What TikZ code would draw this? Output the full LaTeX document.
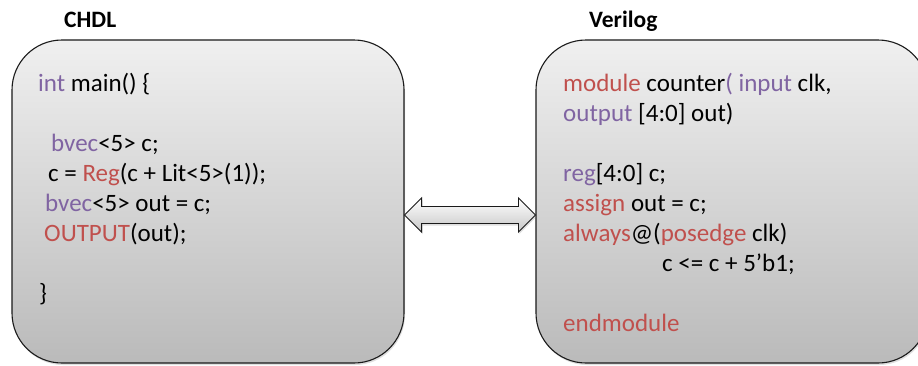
\documentclass[tikz,border=0pt]{standalone}
\usepackage{fontspec}
\setmainfont{Carlito}
\usetikzlibrary{calc,shadows}
\definecolor{kwred}{HTML}{C0504D}
\definecolor{kwpurple}{HTML}{8064A2}
\definecolor{edgegray}{HTML}{1A1A1A}
\tikzset{
  codebox/.style={draw=edgegray, line width=1.1pt, rounded corners=50pt,
    minimum width=392pt, minimum height=323pt, inner sep=0pt,
    top color=black!6, bottom color=black!27,
    drop shadow={opacity=0.25, shadow xshift=1pt, shadow yshift=-2pt}},
  codeline/.style={anchor=base west, inner sep=0pt, font=\fontsize{25}{30}\selectfont},
  heading/.style={anchor=base west, inner sep=0pt, font=\fontsize{23.5}{28}\selectfont\bfseries},
  twoway/.style={draw=edgegray, line width=0.9pt, line join=miter,
    top color=white, bottom color=black!22,
    drop shadow={opacity=0.25, shadow xshift=1pt, shadow yshift=-2pt}}
}
\newcommand{\kr}[1]{\textcolor{kwred}{#1}}
\newcommand{\kp}[1]{\textcolor{kwpurple}{#1}}
\begin{document}
\begin{tikzpicture}[x=1pt, y=-1pt]
  \clip (0,0) rectangle (918,365);
  \fill[white] (0,0) rectangle (918,365);

  % headings
  \node[heading] (tchdl) at (64,27) {CHDL};
  \node[heading] (tver) at (589,27) {Verilog};

  % the two code panels
  \node[codebox] (chdl) at (208,201.5) {};
  \node[codebox] (ver) at (732,201.5) {};

  % CHDL source
  \node[codeline] (c1) at (38,91)  {\kp{int} main() \{};
  \node[codeline] (c2) at (51,151) {\kp{bvec}<5> c;};
  \node[codeline] (c3) at (48,181) {c = \kr{Reg}(c + Lit<5>(1));};
  \node[codeline] (c4) at (45,211) {\kp{bvec}<5> out = c;};
  \node[codeline] (c5) at (44,241) {\kr{OUTPUT}(out);};
  \node[codeline] (c6) at (39,301) {\}};

  % Verilog source
  \node[codeline] (v1) at (563,91)  {\kr{module} counter\kp{( input} clk,};
  \node[codeline] (v2) at (563,121) {\kp{output} [4:0] out)};
  \node[codeline] (v3) at (563,181) {\kp{reg}[4:0] c;};
  \node[codeline] (v4) at (563,211) {\kr{assign} out = c;};
  \node[codeline] (v5) at (563,241) {\kr{always}@(\kr{posedge} clk)};
  \node[codeline] (v6) at (662,271) {c <= c + 5’b1;};
  \node[codeline] (v7) at (563,331) {\kr{endmodule}};

  % double-headed block arrow between the panels
  \coordinate (ltip) at (chdl.east |- 0,215);
  \coordinate (rtip) at (ver.west |- 0,215);
  \path[twoway] (ltip) -- ++(17,-17) -- ++(0,8.5)
    -- ($(rtip)+(-17,-8.5)$) -- ++(0,-8.5) -- (rtip)
    -- ++(-17,17) -- ++(0,-8.5)
    -- ($(ltip)+(17,8.5)$) -- ++(0,8.5) -- cycle;
\end{tikzpicture}
\end{document}
